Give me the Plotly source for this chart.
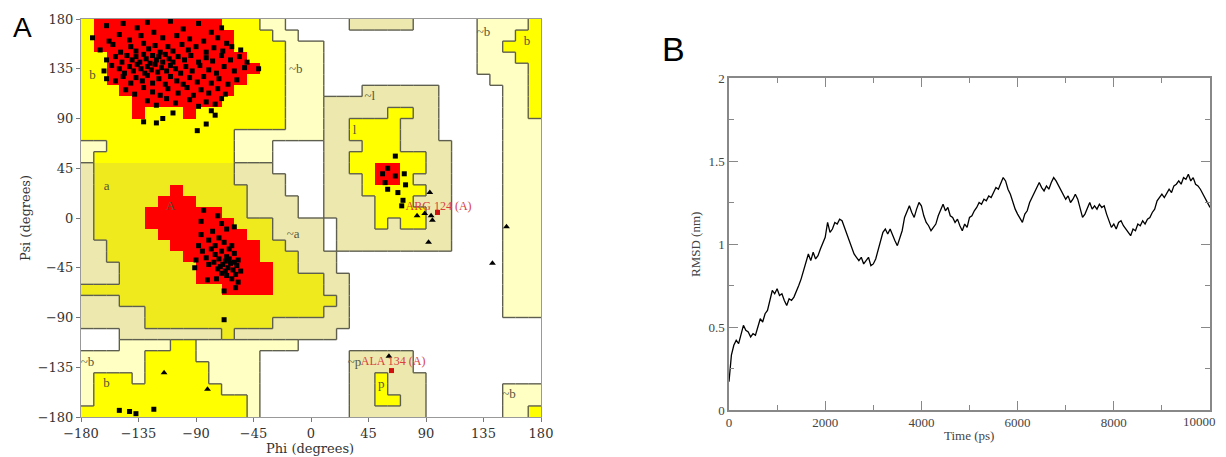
import plotly.graph_objects as go

# the page body has an 8px margin; the figure is placed so its content lines up with the window
OFF = 8
W, H = 1226 - OFF, 457 - OFF


def px(x):
    return (x - OFF) / W


def py(y):
    return 1 - (y - OFF) / H


# ---------------- Panel A: Ramachandran plot ----------------
# Region map, run-length coded, one 10-degree row per entry (psi 180 -> -180),
# columns phi -180 -> 180.  '.' disallowed, 'P' generous (~b), 'K' generous (~a ~l ~p),
# 'y' allowed (a), 'Y' allowed, 'R' core
REGION_ROWS = [
    "Y1 R10 Y3 P2 .5 K5 .5 P4 Y1",
    "Y1 R11 Y3 P2 .14 P3 Y2",
    "Y1 R11 Y4 P3 .12 P2 Y3",
    "Y2 R11 Y3 P3 .12 P3 Y2",
    "Y2 R12 Y2 P3 .12 P4 Y1",
    "Y2 R11 Y3 P3 .13 P3 Y1",
    "Y3 R9 Y4 P3 .3 K6 .5 P2 Y1",
    "Y4 R7 Y5 P3 K9 .5 P2 Y1",
    "Y4 R1 Y3 R1 Y7 P3 K5 Y2 K2 .5 P2 Y1",
    "Y16 P3 K2 Y4 K3 .5 P3",
    "Y12 P7 K2 Y4 K3 .5 P3",
    "P2 Y10 P3 .4 K3 Y3 K4 .4 P3",
    "P1 Y11 P3 .4 K2 Y6 K2 .4 P3",
    "K1 y11 K3 .4 K2 Y2 R2 Y2 K2 .4 P3",
    "K1 y11 K4 .3 K3 Y1 R2 Y1 K3 .4 P3",
    "K1 y6 R1 y5 K3 .3 K3 Y5 K2 .4 P3",
    "K1 y5 R3 y4 K4 .2 K4 Y3 K3 .4 P3",
    "K1 y4 R6 y2 K4 .2 K4 Y4 K2 .4 P3",
    "K1 y4 R7 y3 K4 .1 K3 Y1 K1 Y2 K2 .4 P3",
    "K1 y5 R7 y2 K4 .1 K9 .4 P3",
    "K2 y5 R7 y2 K3 .1 K9 .4 P3",
    "K2 y6 R6 y3 K3 .13 P3",
    "K3 y6 R6 y2 K3 .13 P3",
    "K3 y6 R6 y4 K2 .12 P3",
    "y11 R4 y4 K2 .12 P3",
    "K3 y17 K1 .12 P3",
    "K5 y14 K2 .12 P3",
    "K5 y10 K6 .15",
    ".3 K8 y1 K8 .16",
    ".3 P4 Y2 P8 .19",
    "P5 Y4 P5 .7 K5 .10",
    "P5 Y5 P4 .7 K5 .10",
    "P1 Y3 P1 Y5 P4 .7 K2 Y1 K3 .9",
    "P1 Y10 P3 .7 K2 Y1 K3 .6 P3",
    "P1 Y12 P1 .7 K2 Y2 K2 .6 P3",
    "Y13 P1 .7 K6 .6 P2 Y1",
]
REGION_CODE = {".": 0, "P": 1, "K": 2, "y": 3, "Y": 4, "R": 5}
REGION_LEVEL = {".": 0, "P": 1, "K": 1, "y": 2, "Y": 2, "R": 3}
REGION_COLORS = ["#FFFFFF", "#FFFFC4", "#EDE9AE", "#EEEA1E", "#FFFF00", "#FF0000"]

PHI_TICKS = [-180, -135, -90, -45, 0, 45, 90, 135, 180]
PSI_TICKS = [-180, -135, -90, -45, 0, 45, 90, 135, 180]

# residues in the beta region (squares)
BETA_PHI = [-160, -147, -136, -128, -110, -100, -88, -78, -70, -171, -158, -150, -142, -133, -123, -116, -105, -95, -84, -73, -66,
            -165, -155, -149, -141, -137, -131, -127, -122, -118, -112, -108, -101, -96, -90, -82, -76, -69, -62, -55,
            -160, -153, -148, -144, -140, -137, -134, -131, -129, -126, -124, -121, -119, -116, -114, -111, -108, -104, -99, -94, -88, -82, -77, -70, -63, -56, -50,
            -162, -156, -150, -146, -142, -139, -136, -133, -130, -128, -125, -122, -120, -117, -113, -110, -106, -102, -98, -93, -87, -80, -74, -68, -60, -52, -41,
            -160, -153, -147, -141, -137, -132, -128, -124, -119, -114, -110, -105, -100, -95, -89, -84, -78, -72, -65, -58,
            -145, -138, -131, -124, -118, -112, -104, -97, -92, -86, -80, -73, -67,
            -128, -121, -113, -106, -95, -88, -82, -75, -70,
            -131, -121, -116, -108, -89, -82, -78, -75]
BETA_PSI = [174, 176, 172, 177, 178, 171, 176, 168, 172, 163, 160, 166, 161, 165, 168, 163, 165, 162, 160, 163, 158,
            152, 157, 150, 155, 151, 158, 153, 156, 150, 155, 151, 157, 152, 155, 150, 154, 151, 155, 152,
            143, 146, 141, 147, 143, 146, 141, 148, 144, 140, 147, 143, 146, 141, 148, 144, 141, 146, 143, 147, 141, 145, 142, 147, 143, 146, 141,
            133, 138, 135, 131, 137, 133, 139, 135, 131, 137, 134, 139, 132, 136, 133, 138, 135, 131, 137, 133, 138, 134, 131, 137, 133, 136, 135,
            126, 124, 128, 122, 127, 124, 129, 122, 126, 121, 128, 124, 121, 127, 123, 128, 122, 126, 121, 125,
            116, 112, 118, 114, 111, 117, 113, 118, 111, 116, 113, 117, 112,
            106, 102, 108, 104, 107, 101, 105, 103, 108,
            87, 86, 90, 95, 79, 85, 97, 93]

# residues in the alpha region (squares)
ALPHA_PHI = [-86, -73, -84, -70, -66, -77, -60, -80, -72, -68, -62, -88, -85, -78, -75, -70, -66, -64, -60, -57,
             -90, -82, -76, -72, -69, -67, -65, -63, -61, -58, -55, -73, -70, -66, -62, -59, -91, -81, -68, -59,
             -68, -75, -80, -64, -71, -67, -60, -57, -74, -86]
ALPHA_PSI = [-3, 2, 7, -5, -10, -12, -8, -20, -18, -22, -25, -25, -30, -28, -33, -30, -35, -28, -32, -38,
             -38, -36, -40, -37, -42, -39, -45, -41, -47, -43, -48, -46, -50, -52, -55, -51, -45, -56, -66, -63,
             -92, -25, -42, -37, -44, -48, -40, -58, -55, -15]

# other non-glycine residues (squares)
OTHER_PHI = [66, 56, 60, 66, 73, 60, 68, 72, 71, 58, 74, -150, -142, -137, -123]
OTHER_PSI = [56, 40, 45, 38, 40, 26, 23, 16, 11, 32, 30, -174, -175, -177, -173]

# glycine residues (triangles)
GLY_PHI = [93, 89, 83, 94, 95, 92, 153, 142, 61, -115, -81]
GLY_PSI = [23, 4, 2, 2, -2, -22, -8, -41, -125, -140, -155]

# labelled residues in disallowed/generous regions
LABEL_NAMES = ["ARG 124 (A)", "ALA 134 (A)"]
LABEL_PHI = [99, 63]
LABEL_PSI = [5, -138]
LABEL_TEXT_PHI = [74, 39]
LABEL_TEXT_PSI = [10, -130]

# region labels
REGION_LABELS = ["b", "~b", "a", "A", "~a", "l", "~l", "~b", "b", "~b", "b", "~p", "p", "~b"]
REGION_LABEL_PHI = [-171, -12, -160, -110, -14, 34, 46, 135, 169, -175, -160, 34, 55, 155]
REGION_LABEL_PSI = [129, 134, 28, 10, -15, 79, 110, 168, 159, -131, -150, -131, -151, -160]

# ---------------- Panel B: RMSD ----------------
TIME_TICKS = [0, 2000, 4000, 6000, 8000, 10000]
TIME_TICK_TEXT = ["0", "2000", "4000", "6000", "8000", "10000"]
TIME_PS = list(range(0, 10001, 50))
RMSD_NM = [
    0.17, 0.33, 0.39, 0.42, 0.40, 0.45, 0.51, 0.48, 0.47, 0.44,
    0.46, 0.45, 0.50, 0.55, 0.53, 0.58, 0.60, 0.66, 0.72, 0.70,
    0.73, 0.69, 0.70, 0.66, 0.63, 0.67, 0.66, 0.68, 0.71, 0.75,
    0.79, 0.84, 0.88, 0.94, 0.90, 0.95, 0.91, 0.93, 0.97, 1.00,
    1.04, 1.13, 1.07, 1.09, 1.13, 1.12, 1.15, 1.14, 1.10, 1.05,
    1.02, 0.97, 0.94, 0.92, 0.90, 0.92, 0.88, 0.90, 0.92, 0.87,
    0.88, 0.91, 0.96, 1.01, 1.07, 1.09, 1.06, 1.09, 1.05, 1.02,
    0.99, 1.04, 1.08, 1.16, 1.20, 1.23, 1.19, 1.16, 1.21, 1.25,
    1.23, 1.17, 1.13, 1.11, 1.08, 1.10, 1.12, 1.17, 1.21, 1.24,
    1.20, 1.22, 1.17, 1.16, 1.13, 1.15, 1.11, 1.08, 1.12, 1.10,
    1.16, 1.17, 1.20, 1.22, 1.25, 1.24, 1.27, 1.26, 1.29, 1.28,
    1.31, 1.34, 1.33, 1.37, 1.40, 1.38, 1.33, 1.30, 1.25, 1.21,
    1.18, 1.15, 1.13, 1.18, 1.20, 1.25, 1.28, 1.31, 1.33, 1.37,
    1.34, 1.32, 1.35, 1.33, 1.37, 1.40, 1.38, 1.35, 1.33, 1.29,
    1.27, 1.29, 1.25, 1.27, 1.30, 1.27, 1.22, 1.16, 1.18, 1.22,
    1.25, 1.21, 1.23, 1.21, 1.24, 1.22, 1.23, 1.18, 1.14, 1.10,
    1.12, 1.09, 1.13, 1.14, 1.11, 1.09, 1.07, 1.05, 1.09, 1.08,
    1.12, 1.11, 1.14, 1.12, 1.15, 1.16, 1.19, 1.21, 1.26, 1.28,
    1.30, 1.28, 1.31, 1.33, 1.31, 1.35, 1.36, 1.38, 1.36, 1.40,
    1.39, 1.42, 1.38, 1.40, 1.36, 1.35, 1.33, 1.30, 1.27, 1.25,
    1.22,
]


def expand(row):
    out = ""
    for tok in row.split():
        out += tok[0] * int(tok[1:])
    assert len(out) == 36, (row, len(out))
    return out


grid = [expand(r) for r in REGION_ROWS]
STEP = 10
phi_centers = [-180 + STEP / 2 + STEP * i for i in range(36)]
psi_centers = [180 - STEP / 2 - STEP * j for j in range(36)]
z = [[REGION_CODE[c] for c in row] for row in grid]


def needs_line(a, b):
    la, lb = REGION_LEVEL[a], REGION_LEVEL[b]
    if {a, b} == {"P", "K"}:
        return True
    return la != lb and {la, lb} != {2, 3}


# boundary lines between region levels (not drawn between core and allowed)
seg_x, seg_y = [], []
for j in range(36):
    for i in range(36):
        a = grid[j][i]
        if i < 35 and needs_line(a, grid[j][i + 1]):
            xx = -180 + STEP * (i + 1)
            seg_x += [xx, xx, None]
            seg_y += [180 - STEP * j, 180 - STEP * (j + 1), None]
        if j < 35 and needs_line(a, grid[j + 1][i]):
            yy = 180 - STEP * (j + 1)
            seg_x += [-180 + STEP * i, -180 + STEP * (i + 1), None]
            seg_y += [yy, yy, None]

cs = []
n = len(REGION_COLORS)
for k, col in enumerate(REGION_COLORS):
    cs.append([k / n, col])
    cs.append([(k + 1) / n, col])

fig = go.Figure()
fig.add_trace(go.Heatmap(x=phi_centers, y=psi_centers, z=z, zmin=-0.5, zmax=5.5,
                         colorscale=cs, showscale=False, hoverinfo="skip",
                         xaxis="x", yaxis="y"))
fig.add_trace(go.Scatter(x=seg_x, y=seg_y, mode="lines", line=dict(color="#5f5f50", width=1.4),
                         hoverinfo="skip", xaxis="x", yaxis="y"))
fig.add_trace(go.Scatter(x=REGION_LABEL_PHI, y=REGION_LABEL_PSI, text=REGION_LABELS, mode="text",
                         textfont=dict(family="Liberation Serif", size=13, color="#55553a"),
                         xaxis="x", yaxis="y", hoverinfo="skip"))
fig.add_trace(go.Scatter(x=BETA_PHI + ALPHA_PHI + OTHER_PHI, y=BETA_PSI + ALPHA_PSI + OTHER_PSI,
                         mode="markers", marker=dict(symbol="square", size=5, color="black"),
                         xaxis="x", yaxis="y", hoverinfo="skip"))
fig.add_trace(go.Scatter(x=GLY_PHI, y=GLY_PSI, mode="markers",
                         marker=dict(symbol="triangle-up", size=6, color="black"),
                         xaxis="x", yaxis="y", hoverinfo="skip"))
fig.add_trace(go.Scatter(x=LABEL_PHI, y=LABEL_PSI, mode="markers",
                         marker=dict(symbol="square", size=5, color="#d01010"),
                         xaxis="x", yaxis="y", hoverinfo="skip"))
fig.add_trace(go.Scatter(x=LABEL_TEXT_PHI, y=LABEL_TEXT_PSI, text=LABEL_NAMES, mode="text",
                         textposition="middle right",
                         textfont=dict(family="Liberation Serif", size=12, color="#d84040"),
                         xaxis="x", yaxis="y", hoverinfo="skip"))

# Panel B trace
fig.add_trace(go.Scatter(x=TIME_PS, y=RMSD_NM, mode="lines", line=dict(color="black", width=1.3),
                         xaxis="x2", yaxis="y2", hoverinfo="skip"))

serifA = dict(family="DejaVu Serif", size=13, color="#333333")
serifB = dict(family="Liberation Serif", size=13, color="#444444")

# last time label is drawn right-aligned so that it stays inside the visible page
axis_ticktext = TIME_TICK_TEXT[:-1] + [""]

fig.update_layout(
    width=W, height=H, margin=dict(l=0, r=0, t=0, b=0, autoexpand=False),
    paper_bgcolor="white", plot_bgcolor="white", showlegend=False,
    xaxis=dict(domain=[px(81), px(541)], range=[-180, 180], tickvals=PHI_TICKS, automargin=False,
               ticks="outside", ticklen=4, tickcolor="#777", showline=True, mirror=True,
               linecolor="#999", linewidth=1, showgrid=False, zeroline=True,
               zerolinecolor="#aaaaaa", zerolinewidth=1, layer="above traces",
               tickfont=serifA, anchor="y", fixedrange=True, ticklabeloverflow="allow"),
    yaxis=dict(domain=[py(417), py(19)], range=[-180, 180], tickvals=PSI_TICKS, automargin=False,
               ticks="outside", ticklen=4, tickcolor="#777", showline=True, mirror=True,
               linecolor="#999", linewidth=1, showgrid=False, zeroline=True,
               zerolinecolor="#aaaaaa", zerolinewidth=1, layer="above traces",
               tickfont=serifA, anchor="x", fixedrange=True, ticklabeloverflow="allow"),
    xaxis2=dict(domain=[px(729), px(1210)], range=[0, 10000], tickvals=TIME_TICKS, ticktext=axis_ticktext,
                ticks="inside", ticklen=9, tickcolor="#888", automargin=False,
                minor=dict(dtick=1000, ticks="inside", ticklen=5, tickcolor="#888"),
                showline=True, mirror="allticks", linecolor="#888", linewidth=1.5,
                showgrid=False, zeroline=False, tickfont=serifB, anchor="y2",
                ticklabeloverflow="allow"),
    yaxis2=dict(domain=[py(410), py(78)], range=[0, 2], tickvals=[0, 0.5, 1, 1.5, 2],
                ticks="inside", ticklen=9, tickcolor="#888", automargin=False,
                minor=dict(dtick=0.25, ticks="inside", ticklen=5, tickcolor="#888"),
                showline=True, mirror="allticks", linecolor="#888", linewidth=1.5,
                showgrid=False, zeroline=False, tickfont=serifB, anchor="x2",
                ticklabeloverflow="allow"),
    annotations=[
        dict(text="A", x=px(22), y=py(27), xref="paper", yref="paper", showarrow=False,
             font=dict(family="Liberation Sans", size=28, color="black"), xanchor="center", yanchor="middle"),
        dict(text="B", x=px(673), y=py(49), xref="paper", yref="paper", showarrow=False,
             font=dict(family="Liberation Sans", size=34, color="black"), xanchor="center", yanchor="middle"),
        dict(text="Phi (degrees)", x=px(310), y=py(448), xref="paper", yref="paper", showarrow=False,
             font=serifA, xanchor="center", yanchor="middle"),
        dict(text="Psi (degrees)", x=px(25), y=py(218), xref="paper", yref="paper", showarrow=False,
             font=serifA, textangle=-90, xanchor="center", yanchor="middle"),
        dict(text="RMSD (nm)", x=px(696), y=py(245), xref="paper", yref="paper", showarrow=False,
             font=serifB, textangle=-90, xanchor="center", yanchor="middle"),
        dict(text="Time (ps)", x=px(969), y=py(435), xref="paper", yref="paper", showarrow=False,
             font=serifB, xanchor="center", yanchor="middle"),
        dict(text=TIME_TICK_TEXT[-1], x=px(1217), y=py(421), xref="paper", yref="paper", showarrow=False,
             font=serifB, xanchor="right", yanchor="middle", borderpad=0),
    ],
)

fig.write_html("out.html")
